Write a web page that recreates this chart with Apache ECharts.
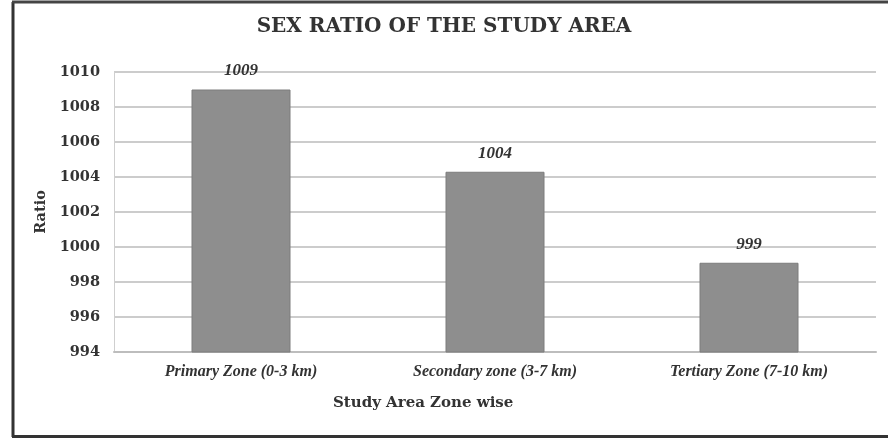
<!DOCTYPE html>
<html><head><meta charset="utf-8">
<script src="https://cdn.jsdelivr.net/npm/echarts@6/dist/echarts.min.js"></script>
<style>html,body{margin:0;padding:0;background:#fff}#c{width:888px;height:439px}</style>
</head><body><div id="c"></div>
<script>
const categories = ["Primary Zone (0-3 km)", "Secondary zone (3-7 km)", "Tertiary Zone (7-10 km)"];
const ratioValues = [1009, 1004.3, 999.1];
const yTicks = { min: 994, max: 1010, interval: 2 };
const titleText = "SEX RATIO OF THE STUDY AREA";
const yName = "Ratio";
const xName = "Study Area Zone wise";

const chart = echarts.init(document.getElementById('c'), null, {renderer:'canvas'});
chart.setOption({
  backgroundColor: '#fff',
  animation: false,
  title: {
    text: titleText, left: 'center', top: 12,
    textStyle: { fontFamily: 'DejaVu Serif', fontWeight: 'bold', fontSize: 20, color: '#333' }
  },
  grid: { left: 114, right: 12, top: 72, bottom: 87, containLabel: false },
  xAxis: {
    type: 'category', data: categories,
    axisLine: { show: true, lineStyle: { color: '#bdbdbd', width: 2 } },
    axisTick: { show: false },
    axisLabel: { margin: 12, fontFamily: 'Liberation Serif', fontStyle: 'italic', fontWeight: 'bold', fontSize: 16, color: '#333' }
  },
  yAxis: {
    type: 'value', min: yTicks.min, max: yTicks.max, interval: yTicks.interval,
    name: yName, nameLocation: 'middle', nameGap: 62, nameRotate: 90,
    nameTextStyle: { fontFamily: 'DejaVu Serif', fontWeight: 'bold', fontSize: 14.5, color: '#333' },
    axisLine: { show: true, lineStyle: { color: '#cfcfcf', width: 1 } },
    axisTick: { show: false },
    splitLine: { lineStyle: { color: '#cccccc', width: 2 } },
    axisLabel: { margin: 14, formatter: v => String(v), fontFamily: 'DejaVu Serif', fontWeight: 'bold', fontSize: 14.5, color: '#333' }
  },
  series: [{
    type: 'bar', data: ratioValues, barWidth: 99,
    itemStyle: { color: '#8e8e8e', borderColor: '#7c7c7c', borderWidth: 1 },
    label: {
      show: true, position: 'top', distance: 10,
      formatter: p => Math.round(p.value),
      fontFamily: 'Liberation Serif', fontStyle: 'italic', fontWeight: 'bold', fontSize: 17, color: '#333'
    }
  }],
  graphic: [
    { type: 'line', shape: { x1: 13, y1: 2, x2: 13, y2: 437 }, style: { stroke: '#333', lineWidth: 3 } },
    { type: 'line', shape: { x1: 12, y1: 2, x2: 888, y2: 2 }, style: { stroke: '#444', lineWidth: 3 } },
    { type: 'line', shape: { x1: 12, y1: 436.5, x2: 888, y2: 436.5 }, style: { stroke: '#333', lineWidth: 3 } },
    { type: 'text', left: 333, top: 396, style: { text: xName, font: 'bold 15px "DejaVu Serif"', fill: '#333' } }
  ]
});
</script></body></html>
